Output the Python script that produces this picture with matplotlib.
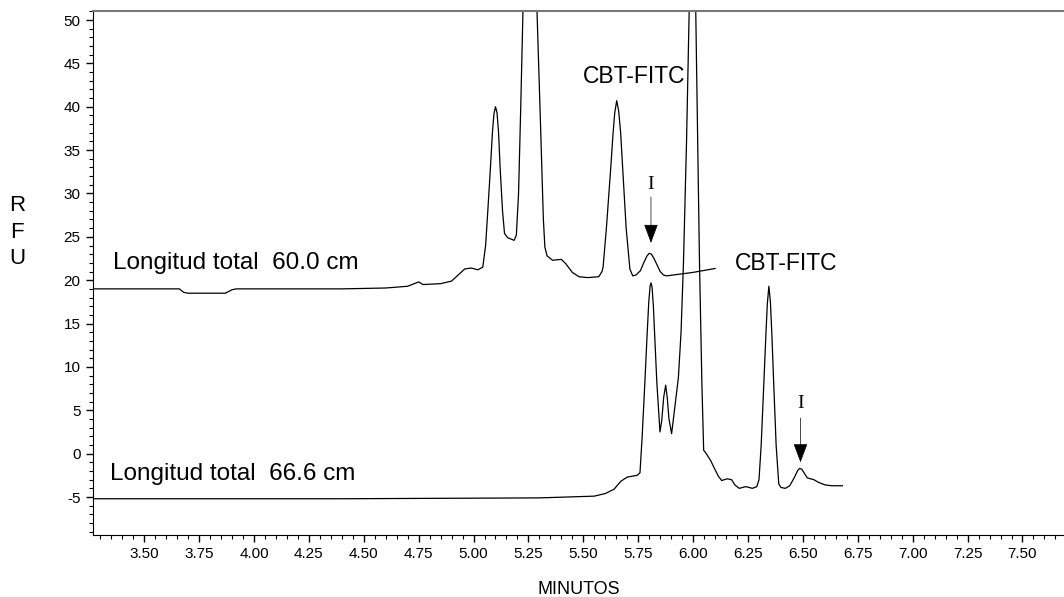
#!/usr/bin/env python3
# -*- coding: utf-8 -*-
"""
Electropherogram: two capillary lengths (60.0 cm and 66.6 cm)
"""
import matplotlib
matplotlib.use("Agg")
import matplotlib.pyplot as plt
from matplotlib.ticker import MultipleLocator, FormatStrFormatter

# trace for total length 60.0 cm (minutes, RFU)
t_60 = [3.267, 3.66, 3.68, 3.70, 3.87, 3.90, 3.92, 4.20, 4.40, 4.60, 4.70, 4.75, 4.77,
        4.85, 4.90, 4.93, 4.96, 4.99, 5.02, 5.042, 5.055, 5.065, 5.077, 5.086, 5.093,
        5.100, 5.107, 5.114, 5.121, 5.132, 5.141, 5.155, 5.175, 5.185, 5.195, 5.205,
        5.215, 5.225, 5.255, 5.289, 5.305, 5.318, 5.325, 5.335, 5.36, 5.40, 5.42,
        5.45, 5.48, 5.52, 5.57, 5.585, 5.59, 5.605, 5.625, 5.635, 5.643, 5.652, 5.661,
        5.670, 5.679, 5.695, 5.712, 5.725, 5.74, 5.76, 5.775, 5.79, 5.80, 5.81, 5.822,
        5.835, 5.85, 5.865, 5.88, 6.00, 6.10]
rfu_60 = [19.0, 19.0, 18.6, 18.5, 18.5, 18.9, 19.0, 19.0, 19.0, 19.1, 19.3, 19.8, 19.5,
          19.6, 19.9, 20.6, 21.3, 21.4, 21.2, 21.5, 24.0, 28.0, 33.0, 37.0, 39.2,
          40.0, 39.3, 37.0, 33.0, 28.0, 25.4, 24.9, 24.7, 24.6, 25.2, 30.0,
          40.0, 51.0, 68.0, 51.0, 38.0, 27.0, 23.8, 22.8, 22.3, 22.4, 21.9,
          20.9, 20.4, 20.3, 20.4, 21.0, 21.5, 26.0, 33.0, 36.8, 39.3, 40.7, 39.5,
          37.0, 33.0, 26.0, 21.3, 20.5, 20.6, 21.1, 22.0, 22.8, 23.1, 23.0, 22.5,
          21.8, 21.0, 20.6, 20.5, 20.9, 21.35]

# trace for total length 66.6 cm (minutes, RFU)
t_66 = [3.267, 4.40, 5.30, 5.55, 5.60, 5.64, 5.67, 5.70, 5.745, 5.758, 5.768, 5.78,
        5.79, 5.798, 5.804, 5.808, 5.813, 5.819, 5.827, 5.835, 5.849, 5.857, 5.866,
        5.875, 5.882, 5.89, 5.902, 5.915, 5.933, 5.945, 5.956, 5.97, 5.982, 5.997,
        6.012, 6.029, 6.04, 6.048, 6.06, 6.08, 6.095, 6.115, 6.13, 6.155, 6.175,
        6.19, 6.21, 6.24, 6.27, 6.29, 6.30, 6.31, 6.322, 6.331, 6.338, 6.345, 6.352,
        6.359, 6.367, 6.378, 6.39, 6.40, 6.42, 6.44, 6.462, 6.475, 6.485, 6.495,
        6.505, 6.52, 6.55, 6.57, 6.60, 6.63, 6.68]
rfu_66 = [-5.2, -5.2, -5.1, -4.9, -4.6, -4.1, -3.2, -2.7, -2.5, -2.2, 2.0, 8.1,
          13.5, 17.5, 19.3, 19.7, 19.2, 17.0, 12.5, 8.1, 2.5, 3.8, 6.5,
          7.9, 6.5, 4.0, 2.3, 5.0, 8.8, 14.0, 22.0, 36.0, 51.0, 65.0,
          51.0, 22.0, 8.0, 0.4, 0.0, -0.8, -1.6, -2.6, -3.1, -2.9, -3.0,
          -3.6, -4.0, -3.8, -4.0, -3.8, -3.0, 1.0, 8.1, 13.5, 17.3, 19.3, 17.5,
          13.5, 8.1, 1.0, -3.5, -3.9, -4.0, -3.7, -2.7, -2.0, -1.7, -1.8,
          -2.2, -2.8, -3.0, -3.3, -3.6, -3.7, -3.7]

# axis limits
x_min, x_max = 3.267, 7.689
y_min, y_max = -9.38, 51.04

# use an Arial-like font and a plain hyphen for negative numbers
plt.rcParams['font.family'] = ['Liberation Sans', 'DejaVu Sans']
plt.rcParams['axes.unicode_minus'] = False

# create new figure (1064 x 597 px)
fig = plt.figure(figsize=(10.64, 5.97), dpi=100)
ax = fig.add_axes([93 / 1064, 62 / 597, 971 / 1064, 524 / 597])

# plot both traces
ax.plot(t_60, rfu_60, color='black', linewidth=0.9)
ax.plot(t_66, rfu_66, color='black', linewidth=0.9)

# set limits of axes
ax.set_xlim(x_min, x_max)
ax.set_ylim(y_min, y_max)

# ticks
ax.xaxis.set_major_locator(MultipleLocator(0.25))
ax.xaxis.set_minor_locator(MultipleLocator(0.05))
ax.xaxis.set_major_formatter(FormatStrFormatter('%.2f'))
ax.yaxis.set_major_locator(MultipleLocator(5))
ax.yaxis.set_minor_locator(MultipleLocator(1))
ax.tick_params(axis='both', which='major', direction='out', length=5, width=1,
               labelsize=11, pad=4)
ax.tick_params(axis='both', which='minor', direction='out', length=3, width=0.8)
ax.set_xticks([3.5 + 0.25 * i for i in range(17)])

# spines: no right spine, grey top line
ax.spines['right'].set_visible(False)
ax.spines['top'].set_color('#777777')
ax.spines['top'].set_linewidth(1.5)

# trace labels
ax.text(3.356, 21.27, 'Longitud total  60.0 cm', fontsize=17.5, va='baseline', ha='left')
ax.text(3.343, -3.0, 'Longitud total  66.6 cm', fontsize=17.5, va='baseline', ha='left')
ax.text(5.499, 42.7, 'CBT-FITC', fontsize=16.5, va='baseline', ha='left')
ax.text(6.192, 21.2, 'CBT-FITC', fontsize=16.5, va='baseline', ha='left')

# "I" peak markers with arrows
for px, y_txt, y_top, y_tip in [(5.808, 31.0, 29.6, 24.3), (6.489, 5.8, 4.1, -1.0)]:
    ax.text(px, y_txt, 'I', fontsize=14, family='Liberation Serif',
            ha='center', va='center')
    ax.annotate('', xy=(px, y_tip), xytext=(px, y_top),
                arrowprops=dict(arrowstyle='-|>,head_length=0.8,head_width=0.3',
                                color='black', lw=0.5, shrinkA=0, shrinkB=0,
                                mutation_scale=15))

# axis titles
ax.set_xlabel('MINUTOS', fontsize=13, labelpad=14)
fig.text(17 / 1064, 1 - 232 / 597, 'R\nF\nU', fontsize=16, ha='center', va='center',
         linespacing=1.35)

# export the figure to an image
fig.savefig('out.png', dpi=100)
